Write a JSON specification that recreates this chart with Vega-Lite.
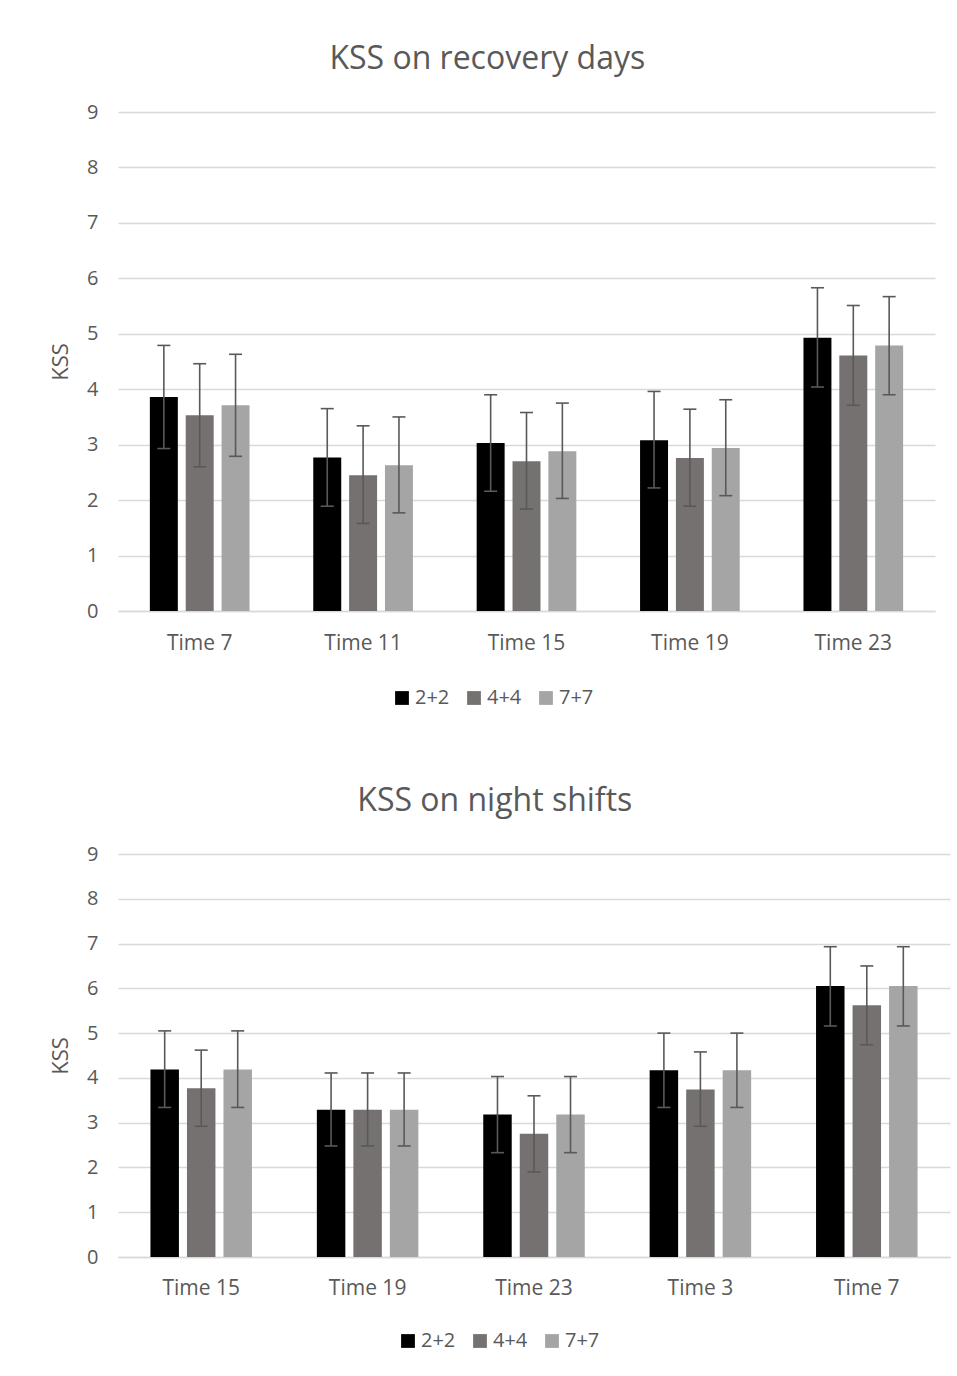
{
  "$schema": "https://vega.github.io/schema/vega-lite/v6.json",
  "background": "white",
  "autosize": {"type": "pad"},
  "padding": {"left": 49, "top": 43, "right": 5, "bottom": 5},
  "config": {
    "font": "Open Sans",
    "view": {"stroke": null},
    "axis": {
      "labelColor": "#595959", "titleColor": "#595959",
      "labelFont": "Open Sans", "titleFont": "Open Sans",
      "labelFontSize": 20, "titleFontSize": 22, "titleFontWeight": "normal",
      "ticks": false, "gridColor": "#d9d9d9", "gridWidth": 1.3,
      "domainColor": "#d9d9d9", "domainWidth": 1.3
    },
    "title": {"fontSize": 32, "fontWeight": "normal", "color": "#595959", "font": "Open Sans", "anchor": "middle", "frame": "bounds"},
    "legend": {"labelFontSize": 20, "labelColor": "#595959", "labelFont": "Open Sans", "symbolType": "square", "symbolSize": 190, "symbolStrokeWidth": 0, "symbolOpacity": 1, "columnPadding": 14, "labelOffset": 3, "padding": 0},
    "concat": {"spacing": 77}
  },
  "datasets": {
    "recovery": [
      {"time": "Time 7", "group": "2+2", "mean": 3.86, "lo": 2.93, "hi": 4.79},
      {"time": "Time 7", "group": "4+4", "mean": 3.53, "lo": 2.60, "hi": 4.46},
      {"time": "Time 7", "group": "7+7", "mean": 3.71, "lo": 2.79, "hi": 4.63},
      {"time": "Time 11", "group": "2+2", "mean": 2.77, "lo": 1.89, "hi": 3.65},
      {"time": "Time 11", "group": "4+4", "mean": 2.45, "lo": 1.58, "hi": 3.34},
      {"time": "Time 11", "group": "7+7", "mean": 2.63, "lo": 1.77, "hi": 3.50},
      {"time": "Time 15", "group": "2+2", "mean": 3.03, "lo": 2.16, "hi": 3.90},
      {"time": "Time 15", "group": "4+4", "mean": 2.70, "lo": 1.84, "hi": 3.58},
      {"time": "Time 15", "group": "7+7", "mean": 2.88, "lo": 2.03, "hi": 3.75},
      {"time": "Time 19", "group": "2+2", "mean": 3.08, "lo": 2.22, "hi": 3.96},
      {"time": "Time 19", "group": "4+4", "mean": 2.76, "lo": 1.89, "hi": 3.64},
      {"time": "Time 19", "group": "7+7", "mean": 2.94, "lo": 2.08, "hi": 3.81},
      {"time": "Time 23", "group": "2+2", "mean": 4.93, "lo": 4.04, "hi": 5.83},
      {"time": "Time 23", "group": "4+4", "mean": 4.61, "lo": 3.71, "hi": 5.51},
      {"time": "Time 23", "group": "7+7", "mean": 4.79, "lo": 3.90, "hi": 5.67}
    ],
    "night": [
      {"time": "Time 15", "group": "2+2", "mean": 4.19, "lo": 3.34, "hi": 5.05},
      {"time": "Time 15", "group": "4+4", "mean": 3.77, "lo": 2.92, "hi": 4.62},
      {"time": "Time 15", "group": "7+7", "mean": 4.19, "lo": 3.34, "hi": 5.05},
      {"time": "Time 19", "group": "2+2", "mean": 3.29, "lo": 2.48, "hi": 4.11},
      {"time": "Time 19", "group": "4+4", "mean": 3.29, "lo": 2.48, "hi": 4.11},
      {"time": "Time 19", "group": "7+7", "mean": 3.29, "lo": 2.48, "hi": 4.11},
      {"time": "Time 23", "group": "2+2", "mean": 3.18, "lo": 2.33, "hi": 4.03},
      {"time": "Time 23", "group": "4+4", "mean": 2.75, "lo": 1.90, "hi": 3.60},
      {"time": "Time 23", "group": "7+7", "mean": 3.18, "lo": 2.33, "hi": 4.03},
      {"time": "Time 3", "group": "2+2", "mean": 4.17, "lo": 3.34, "hi": 5.00},
      {"time": "Time 3", "group": "4+4", "mean": 3.74, "lo": 2.92, "hi": 4.58},
      {"time": "Time 3", "group": "7+7", "mean": 4.17, "lo": 3.34, "hi": 5.00},
      {"time": "Time 7", "group": "2+2", "mean": 6.05, "lo": 5.16, "hi": 6.93},
      {"time": "Time 7", "group": "4+4", "mean": 5.62, "lo": 4.74, "hi": 6.50},
      {"time": "Time 7", "group": "7+7", "mean": 6.05, "lo": 5.16, "hi": 6.93}
    ]
  },
  "resolve": {
    "scale": {"x": "independent", "y": "independent", "color": "independent", "xOffset": "independent"},
    "legend": {"color": "independent"}
  },
  "vconcat": [
    {
      "title": {"text": "KSS on recovery days", "offset": 26, "dx": -5},
      "width": 817,
      "height": 499,
      "data": {"name": "recovery"},
      "encoding": {
        "x": {"field": "time", "type": "nominal", "sort": ["Time 7", "Time 11", "Time 15", "Time 19", "Time 23"],
              "scale": {"paddingInner": 0.39, "paddingOuter": 0.195},
              "axis": {"title": null, "labelAngle": 0, "labelPadding": 21, "labelFontSize": 21, "grid": false}},
        "xOffset": {"field": "group", "type": "nominal", "sort": ["2+2", "4+4", "7+7"], "scale": {"paddingInner": 0.22, "paddingOuter": 0}}
      },
      "layer": [
        {
          "mark": {"type": "bar"},
          "encoding": {
            "y": {"field": "mean", "type": "quantitative", "scale": {"domain": [0, 9], "nice": false},
                  "axis": {"title": "KSS", "format": "d", "values": [0, 1, 2, 3, 4, 5, 6, 7, 8, 9], "grid": true, "domain": false, "labelPadding": 20, "titlePadding": 14}},
            "color": {"field": "group", "type": "nominal", "sort": ["2+2", "4+4", "7+7"],
                      "scale": {"domain": ["2+2", "4+4", "7+7"], "range": ["#000000", "#767171", "#a5a5a5"]},
                      "legend": {"title": null, "orient": "none", "direction": "horizontal", "legendX": 274, "legendY": 576}}
          }
        },
        {
          "mark": {"type": "rule", "color": "#595959", "strokeWidth": 1.6},
          "encoding": {
            "y": {"field": "lo", "type": "quantitative", "title": "KSS"},
            "y2": {"field": "hi"}
          }
        },
        {
          "mark": {"type": "tick", "color": "#595959", "thickness": 1.6, "size": 13, "opacity": 1},
          "encoding": {"y": {"field": "lo", "type": "quantitative", "title": "KSS"}}
        },
        {
          "mark": {"type": "tick", "color": "#595959", "thickness": 1.6, "size": 13, "opacity": 1},
          "encoding": {"y": {"field": "hi", "type": "quantitative", "title": "KSS"}}
        }
      ]
    },
    {
      "title": {"text": "KSS on night shifts", "offset": 26, "dx": -5},
      "width": 832,
      "height": 403,
      "data": {"name": "night"},
      "encoding": {
        "x": {"field": "time", "type": "nominal", "sort": ["Time 15", "Time 19", "Time 23", "Time 3", "Time 7"],
              "scale": {"paddingInner": 0.39, "paddingOuter": 0.195},
              "axis": {"title": null, "labelAngle": 0, "labelPadding": 20, "labelFontSize": 21, "grid": false}},
        "xOffset": {"field": "group", "type": "nominal", "sort": ["2+2", "4+4", "7+7"], "scale": {"paddingInner": 0.22, "paddingOuter": 0}}
      },
      "layer": [
        {
          "mark": {"type": "bar"},
          "encoding": {
            "y": {"field": "mean", "type": "quantitative", "scale": {"domain": [0, 9], "nice": false},
                  "axis": {"title": "KSS", "format": "d", "values": [0, 1, 2, 3, 4, 5, 6, 7, 8, 9], "grid": true, "domain": false, "labelPadding": 20, "titlePadding": 14}},
            "color": {"field": "group", "type": "nominal", "sort": ["2+2", "4+4", "7+7"],
                      "scale": {"domain": ["2+2", "4+4", "7+7"], "range": ["#000000", "#767171", "#a5a5a5"]},
                      "legend": {"title": null, "orient": "none", "direction": "horizontal", "legendX": 280, "legendY": 477}}
          }
        },
        {
          "mark": {"type": "rule", "color": "#595959", "strokeWidth": 1.6},
          "encoding": {
            "y": {"field": "lo", "type": "quantitative", "title": "KSS"},
            "y2": {"field": "hi"}
          }
        },
        {
          "mark": {"type": "tick", "color": "#595959", "thickness": 1.6, "size": 13, "opacity": 1},
          "encoding": {"y": {"field": "lo", "type": "quantitative", "title": "KSS"}}
        },
        {
          "mark": {"type": "tick", "color": "#595959", "thickness": 1.6, "size": 13, "opacity": 1},
          "encoding": {"y": {"field": "hi", "type": "quantitative", "title": "KSS"}}
        }
      ]
    }
  ]
}
